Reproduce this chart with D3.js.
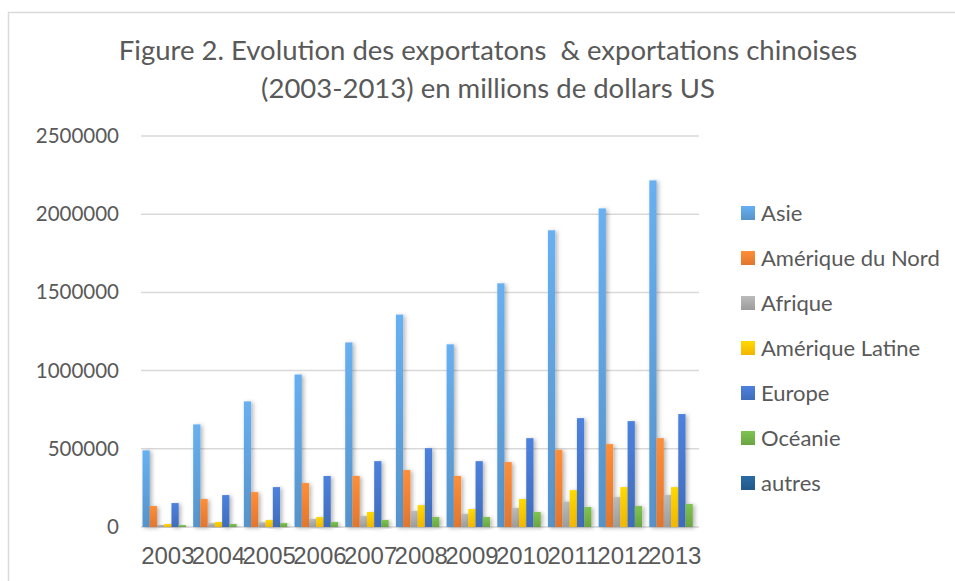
<!DOCTYPE html>
<html><head><meta charset="utf-8">
<script src="https://cdn.jsdelivr.net/npm/d3@7"></script>
<style>body{margin:0;background:#fff}svg{display:block}</style>
</head><body>
<svg id="chart" width="955" height="581"></svg>
<script>
const years = ["2003","2004","2005","2006","2007","2008","2009","2010","2011","2012","2013"];
const seriesNames = ["Asie","Amérique du Nord","Afrique","Amérique Latine","Europe","Océanie","autres"];
const asie = [490000,656000,803000,975000,1180000,1358000,1168000,1558000,1897000,2037000,2216000];
const ameriqueNord = [134000,179000,223000,281000,326000,364000,326000,415000,494000,530000,568000];
const afrique = [13000,24000,30000,51000,70000,102000,83000,121000,162000,191000,204000];
const ameriqueLatine = [19000,32000,45000,64000,96000,140000,115000,179000,236000,255000,255000];
const europe = [153000,204000,255000,326000,421000,504000,421000,568000,696000,677000,722000];
const oceanie = [12000,19000,25000,32000,45000,64000,64000,96000,128000,134000,147000];
const autres = [0,0,0,0,0,0,0,0,0,0,0];
const yTicks = [0,500000,1000000,1500000,2000000,2500000];
const titleLines = ["Figure 2. Evolution des exportatons  & exportations chinoises","(2003-2013) en millions de dollars US"];

const seriesValues = [asie, ameriqueNord, afrique, ameriqueLatine, europe, oceanie, autres];
const colors = ["#5B9BD5","#ED7D31","#A5A5A5","#FFC000","#4472C4","#70AD47","#255E91"];

const svg = d3.select("#chart");
const defs = svg.append("defs");
colors.forEach((c,i)=>{
  const g = defs.append("linearGradient").attr("id","g"+i).attr("x1",0).attr("y1",0).attr("x2",0).attr("y2",1);
  g.append("stop").attr("offset","0%").attr("stop-color", d3.color(c).brighter(0.35));
  g.append("stop").attr("offset","100%").attr("stop-color", d3.color(c).darker(0.15));
});
const f = defs.append("filter").attr("id","sh").attr("x","-50%").attr("y","-10%").attr("width","250%").attr("height","130%");
f.append("feDropShadow").attr("dx",2).attr("dy",1).attr("stdDeviation",2).attr("flood-color","#000").attr("flood-opacity",0.3);

// outer border
svg.append("path").attr("d","M8.5,581 L8.5,12.5 L955,12.5").attr("fill","none").attr("stroke","#d9d9d9").attr("stroke-width",1.5);

const plotL = 141, plotR = 699;
const y = d3.scaleLinear().domain([0,2500000]).range([527,136]);
const x0 = d3.scaleBand().domain(years).range([142.5,700]).paddingInner(0).paddingOuter(0);
const x1 = d3.scaleBand().domain(seriesNames).range([0,x0.bandwidth()]).padding(0);

// gridlines
svg.append("g").selectAll("line").data(yTicks).join("line")
  .attr("x1",plotL).attr("x2",plotR).attr("y1",d=>y(d)).attr("y2",d=>y(d))
  .attr("stroke","#d9d9d9").attr("stroke-width",1.5);

// y axis labels
const yAxis = d3.axisLeft(y).tickValues(yTicks).tickSize(0).tickPadding(0).tickFormat(d3.format("d"));
const ya = svg.append("g").attr("transform","translate(119,0)").call(yAxis);
ya.select(".domain").remove();
ya.selectAll("text").attr("font-family","Lato, 'Open Sans', sans-serif").attr("font-size",20.5).attr("fill","#595959");

// bars
const groups = svg.append("g").selectAll("g").data(years).join("g")
  .attr("transform",d=>`translate(${x0(d)},0)`);
groups.selectAll("rect").data((d,i)=>seriesNames.map((s,k)=>({s,k,v:seriesValues[k][i]})))
  .join("rect")
  .attr("x",d=>x1(d.s)).attr("width",x1.bandwidth())
  .attr("y",d=>y(d.v)).attr("height",d=>y(0)-y(d.v))
  .attr("fill",d=>`url(#g${d.k})`).attr("filter","url(#sh)");

// x axis labels
const xAxis = d3.axisBottom(x0).tickSize(0).tickPadding(0);
const xa = svg.append("g").attr("transform","translate(0,545)").call(xAxis);
xa.select(".domain").remove();
xa.selectAll("text").attr("font-family","'Liberation Sans', Arial, sans-serif").attr("font-size",24).attr("fill","#595959").attr("dy","0.8em");

// title
svg.append("g").selectAll("text").data(titleLines).join("text")
  .attr("x",488).attr("y",(d,i)=>60+i*38).attr("text-anchor","middle")
  .attr("font-family","Lato, 'Open Sans', sans-serif").attr("font-size",27.5).attr("fill","#595959")
  .style("white-space","pre").attr("xml:space","preserve")
  .text(d=>d);

// legend
const lg = svg.append("g").selectAll("g").data(seriesNames).join("g")
  .attr("transform",(d,i)=>`translate(741,${206+i*45})`);
lg.append("rect").attr("width",14).attr("height",14).attr("fill",(d,i)=>`url(#g${i})`);
lg.append("text").attr("x",20).attr("y",7).attr("dy","0.35em")
  .attr("font-family","Lato, 'Open Sans', sans-serif").attr("font-size",22).attr("fill","#595959").text(d=>d);
</script>
</body></html>
